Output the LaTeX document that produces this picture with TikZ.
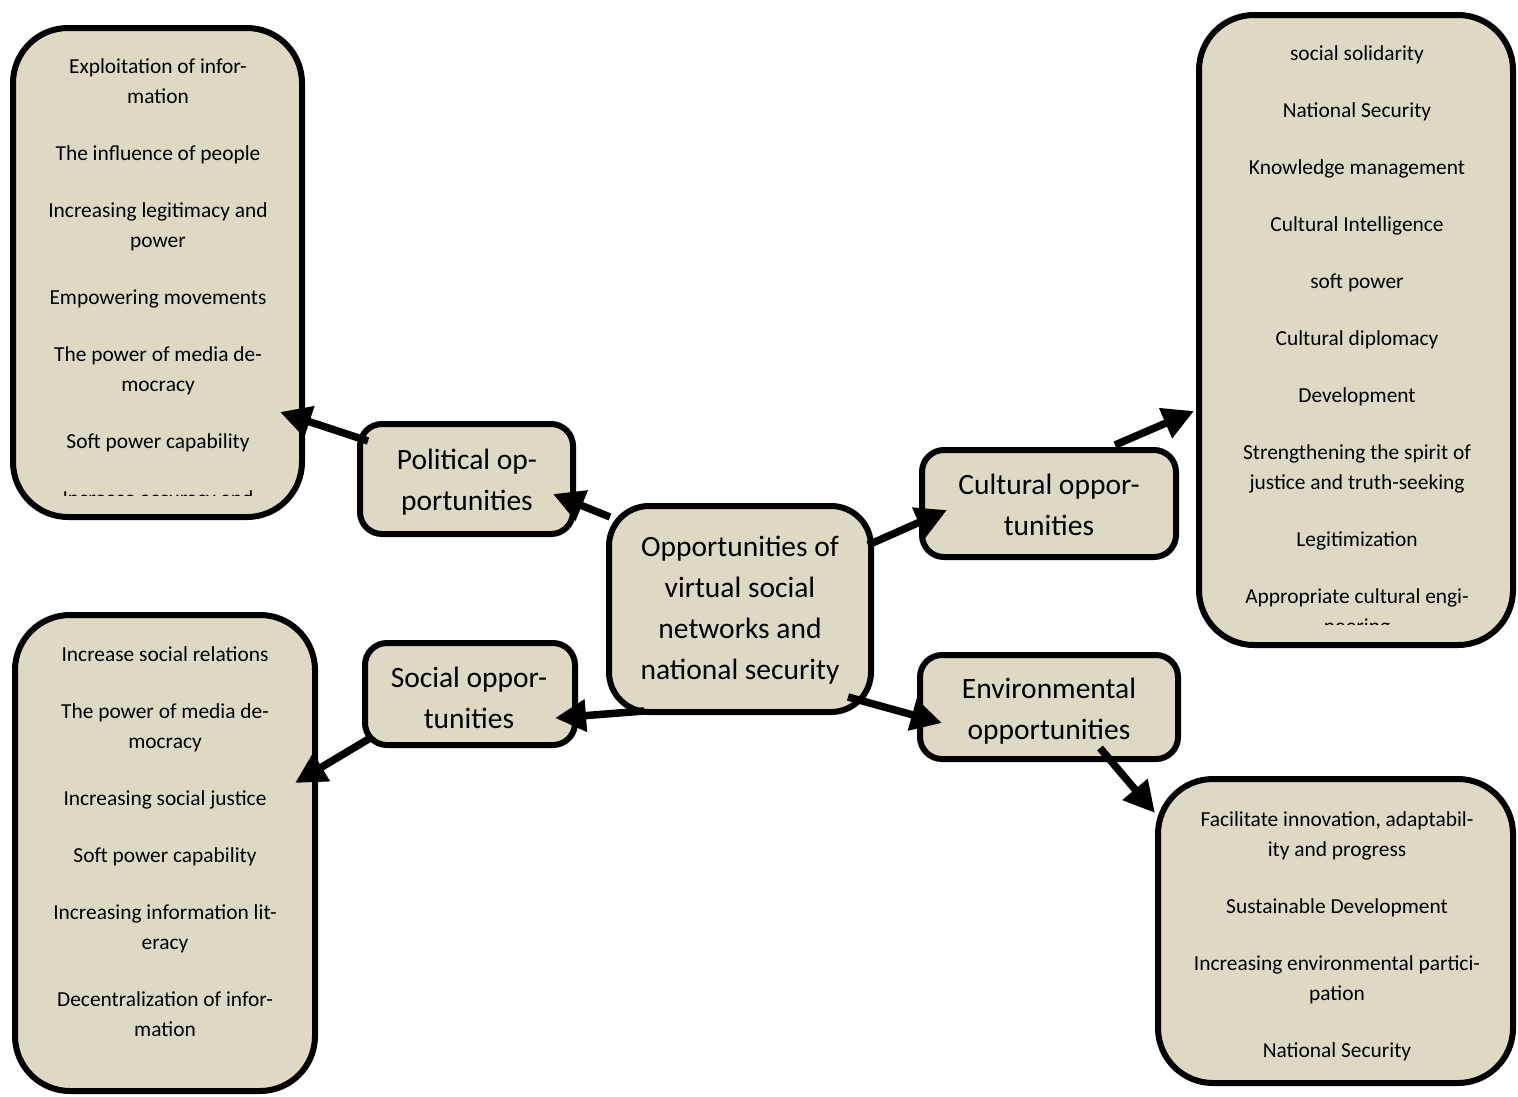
\documentclass[tikz,border=0pt]{standalone}
\usepackage{fontspec}
\setmainfont{Carlito}
\usetikzlibrary{arrows.meta}
\definecolor{boxfill}{HTML}{DDD9C3}
\begin{document}
\begin{tikzpicture}[x=1pt,y=-1pt,
  box/.style={draw=black, line width=6pt, fill=boxfill, rectangle, rounded corners=#1, inner sep=0pt},
  listtext/.style={align=center, font=\fontsize{21.4}{30}\selectfont, anchor=base, inner sep=0pt},
  maintext/.style={align=center, font=\fontsize{29.5}{41}\selectfont, anchor=base, inner sep=0pt},
  conn/.style={line width=7.5pt, -{Triangle[length=31pt,width=31pt]}}]
\useasboundingbox (0,0) rectangle (1518,1096);
% list boxes
\node[box=55pt, minimum width=289pt, minimum height=489pt] (pl) at (157.5,272.5) {};
\node[box=55pt, minimum width=314pt, minimum height=630pt] (cl) at (1356,330) {};
\node[box=55pt, minimum width=300pt, minimum height=476pt] (sl) at (165,853) {};
\node[box=55pt, minimum width=355pt, minimum height=304pt] (el) at (1335.5,931) {};
% category boxes
\node[box=40pt, minimum width=262pt, minimum height=206pt] (c) at (740,609) {};
\node[box=22pt, minimum width=213pt, minimum height=110pt] (p) at (466.5,479) {};
\node[box=22pt, minimum width=254pt, minimum height=107pt] (cu) at (1049,503.5) {};
\node[box=22pt, minimum width=210pt, minimum height=102pt] (s) at (470,694) {};
\node[box=22pt, minimum width=258pt, minimum height=104pt] (e) at (1049,707) {};
% main texts (anchor = baseline of last line)
\node[maintext] (ct) at (740,679) {Opportunities of\\virtual social\\networks and\\national security};
\node[maintext] (pt) at (467,510) {Political op-\\portunities};
\node[maintext] (cut) at (1049,535) {Cultural oppor-\\tunities};
\node[maintext] (st) at (469,728) {Social oppor-\\tunities};
\node[maintext] (et) at (1049,739) {Environmental\\opportunities};
% list texts (anchor = baseline of last line)
\begin{scope}
\clip (20,30) rectangle (300,495);
\node[listtext] (plt) at (158,505.5) {Exploitation of infor-\\mation\\[27pt]The influence of people\\[27pt]Increasing legitimacy and\\power\\[27pt]Empowering movements\\[27pt]The power of media de-\\mocracy\\[27pt]Soft power capability\\[27pt]Increase accuracy and};
\end{scope}
\begin{scope}
\clip (1200,20) rectangle (1510,624.5);
\node[listtext] (clt) at (1357,633.5) {social solidarity\\[27pt]National Security\\[27pt]Knowledge management\\[27pt]Cultural Intelligence\\[27pt]soft power\\[27pt]Cultural diplomacy\\[27pt]Development\\[27pt]Strengthening the spirit of\\justice and truth-seeking\\[27pt]Legitimization\\[27pt]Appropriate cultural engi-\\neering};
\end{scope}
\node[listtext] (slt) at (165,1036.5) {Increase social relations\\[27pt]The power of media de-\\mocracy\\[27pt]Increasing social justice\\[27pt]Soft power capability\\[27pt]Increasing information lit-\\eracy\\[27pt]Decentralization of infor-\\mation};
\node[listtext] (elt) at (1337,1057) {Facilitate innovation, adaptabil-\\ity and progress\\[27pt]Sustainable Development\\[27pt]Increasing environmental partici-\\pation\\[27pt]National Security};
% connector end points
\coordinate (c1) at (610,517);  \coordinate (p1) at (553,494);
\coordinate (p2) at (368,441);  \coordinate (pl1) at (280,412);
\coordinate (c2) at (868,545);  \coordinate (cu1) at (947,510);
\coordinate (cu2) at (1115,445); \coordinate (cl1) at (1194,411);
\coordinate (c3) at (644,711);  \coordinate (s1) at (555,718);
\coordinate (s2) at (372,737);  \coordinate (sl1) at (295,783);
\coordinate (c4) at (848,697);  \coordinate (e1) at (942,723);
\coordinate (e2) at (1100,748); \coordinate (el1) at (1155,813);
\draw[conn] (c1) -- (p1);
\draw[conn] (p2) -- (pl1);
\draw[conn] (c2) -- (cu1);
\draw[conn] (cu2) -- (cl1);
\draw[conn] (c3) -- (s1);
\draw[conn] (s2) -- (sl1);
\draw[conn] (c4) -- (e1);
\draw[conn] (e2) -- (el1);
\end{tikzpicture}
\end{document}
